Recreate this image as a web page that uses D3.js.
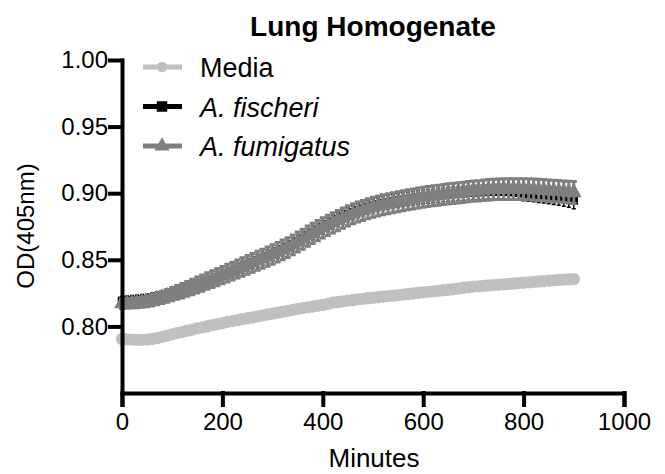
<!DOCTYPE html>
<html>
<head>
<meta charset="utf-8">
<script src="https://cdn.jsdelivr.net/npm/d3@7"></script>
<style>
  body { margin: 0; background: #fff; }
  text { font-family: Arial, "Liberation Sans", sans-serif; }
</style>
</head>
<body>
<script>
// time points (minutes)
var minutes = [0,10,20,30,40,50,60,70,80,90,100,110,120,130,140,150,160,170,180,190,
  200,210,220,230,240,250,260,270,280,290,300,310,320,330,340,350,360,370,380,390,
  400,410,420,430,440,450,460,470,480,490,500,510,520,530,540,550,560,570,580,590,
  600,610,620,630,640,650,660,670,680,690,700,710,720,730,740,750,760,770,780,790,
  800,810,820,830,840,850,860,870,880,890,900];

var media = [.7905,.7903,.7901,.7899,.7899,.7901,.7905,.7912,.7921,.7931,
  .7940,.7949,.7958,.7967,.7976,.7985,.7993,.8001,.8009,.8017,
  .8025,.8033,.8040,.8047,.8054,.8061,.8068,.8075,.8082,.8089,
  .8096,.8103,.8110,.8117,.8124,.8131,.8137,.8143,.8149,.8155,
  .8161,.8168,.8178,.8183,.8188,.8193,.8198,.8203,.8207,.8211,
  .8215,.8219,.8223,.8227,.8231,.8235,.8239,.8243,.8247,.8251,
  .8255,.8259,.8263,.8267,.8271,.8275,.8279,.8284,.8290,.8294,
  .8298,.8301,.8304,.8307,.8310,.8313,.8316,.8319,.8322,.8325,
  .8328,.8331,.8334,.8337,.8340,.8343,.8346,.8349,.8351,.8353,.8355];

var fischeri = [.8192,.8194,.8196,.8199,.8202,.8206,.8212,.8220,.8228,.8236,
  .8245,.8255,.8268,.8281,.8295,.8309,.8324,.8339,.8354,.8369,
  .8384,.8399,.8414,.8430,.8446,.8462,.8478,.8494,.8510,.8526,
  .8543,.8560,.8578,.8597,.8617,.8638,.8660,.8682,.8704,.8725,
  .8746,.8766,.8786,.8805,.8823,.8842,.8857,.8871,.8884,.8896,
  .8907,.8916,.8925,.8932,.8939,.8945,.8951,.8957,.8962,.8967,
  .8971,.8975,.8979,.8983,.8987,.8991,.8994,.8997,.9000,.9003,
  .9006,.9008,.9010,.9012,.9013,.9013,.9012,.9010,.9007,.9003,
  .8999,.8995,.8991,.8987,.8983,.8978,.8973,.8968,.8962,.8955,.8945];

var fischeriSem = [.0035,.0035,.0036,.0036,.0037,.0037,.0038,.0038,.0039,.0039,
  .0040,.0040,.0040,.0041,.0041,.0041,.0042,.0042,.0042,.0043,
  .0043,.0043,.0044,.0044,.0044,.0045,.0045,.0045,.0045,.0046,
  .0046,.0046,.0046,.0047,.0047,.0047,.0047,.0047,.0048,.0048,
  .0048,.0048,.0048,.0048,.0049,.0049,.0049,.0049,.0049,.0049,
  .0050,.0050,.0050,.0050,.0050,.0050,.0050,.0051,.0051,.0051,
  .0051,.0051,.0051,.0052,.0052,.0052,.0052,.0052,.0052,.0053,
  .0053,.0053,.0053,.0053,.0054,.0054,.0054,.0054,.0055,.0055,
  .0055,.0056,.0056,.0057,.0057,.0058,.0058,.0059,.0060,.0061,.0062];

var fumigatus = [.8170,.8172,.8175,.8178,.8182,.8188,.8196,.8206,.8217,.8229,
  .8242,.8255,.8268,.8282,.8296,.8310,.8325,.8340,.8355,.8370,
  .8385,.8400,.8415,.8431,.8446,.8462,.8477,.8493,.8508,.8524,
  .8540,.8557,.8574,.8592,.8612,.8633,.8655,.8677,.8698,.8719,
  .8740,.8759,.8777,.8795,.8813,.8830,.8845,.8858,.8870,.8883,
  .8895,.8904,.8913,.8921,.8928,.8935,.8943,.8950,.8957,.8964,
  .8970,.8975,.8980,.8985,.8990,.8995,.8999,.9003,.9007,.9011,
  .9015,.9018,.9022,.9025,.9028,.9030,.9031,.9031,.9031,.9031,
  .9030,.9029,.9027,.9025,.9023,.9020,.9017,.9014,.9011,.9008,.9005];

var fumigatusSem = [.0035,.0036,.0037,.0038,.0039,.0040,.0042,.0044,.0046,.0048,
  .0050,.0052,.0054,.0056,.0058,.0060,.0061,.0062,.0063,.0064,
  .0065,.0066,.0067,.0068,.0069,.0070,.0071,.0071,.0072,.0072,
  .0073,.0073,.0074,.0074,.0075,.0075,.0075,.0076,.0076,.0076,
  .0076,.0076,.0076,.0076,.0076,.0076,.0075,.0075,.0075,.0075,
  .0075,.0075,.0075,.0075,.0075,.0075,.0075,.0075,.0075,.0075,
  .0075,.0075,.0075,.0075,.0075,.0076,.0076,.0076,.0076,.0076,
  .0076,.0076,.0077,.0077,.0077,.0077,.0078,.0078,.0078,.0078,
  .0079,.0079,.0079,.0080,.0080,.0080,.0081,.0081,.0081,.0082,.0082];

var xTicks = [0, 200, 400, 600, 800, 1000];
var yTicks = [0.80, 0.85, 0.90, 0.95, 1.00];

var width = 665, height = 474;

var svg = d3.select('body').append('svg')
  .attr('width', width)
  .attr('height', height);

var x = d3.scaleLinear().domain([0, 1000]).range([122, 624]);
var y = d3.scaleLinear().domain([0.75, 1.00]).range([393, 60]);

// title
svg.append('text')
  .attr('x', 373).attr('y', 36)
  .attr('text-anchor', 'middle')
  .style('font-size', '28px')
  .style('font-weight', 'bold')
  .text('Lung Homogenate');

// axis labels
svg.append('text')
  .attr('transform', 'translate(34,' + 226 + ') rotate(-90)')
  .attr('text-anchor', 'middle')
  .style('font-size', '24px')
  .text('OD(405nm)');

svg.append('text')
  .attr('x', 374).attr('y', 467)
  .attr('text-anchor', 'middle')
  .style('font-size', '26px')
  .text('Minutes');

function series(vals, sem, color, symType, symSize, capW, barW) {
  var g = svg.append('g');
  var pts = minutes.map(function(t, i) { return { t: t, v: vals[i], e: sem ? sem[i] : 0 }; });

  g.append('path')
    .datum(pts)
    .attr('d', d3.line().x(function(d) { return x(d.t); }).y(function(d) { return y(d.v); }))
    .style('fill', 'none')
    .style('stroke', color)
    .style('stroke-width', 2);

  if (sem) {
    g.selectAll('.eb').data(pts).enter().append('path')
      .attr('d', function(d) {
        var cx = x(d.t), y1 = y(d.v + d.e), y2 = y(d.v - d.e);
        return 'M' + cx + ',' + y1 + 'V' + y2 +
          'M' + (cx - capW / 2) + ',' + y1 + 'H' + (cx + capW / 2) +
          'M' + (cx - capW / 2) + ',' + y2 + 'H' + (cx + capW / 2);
      })
      .style('fill', 'none')
      .style('stroke', color)
      .style('stroke-width', barW);
  }

  g.selectAll('.pt').data(pts).enter().append('path')
    .attr('transform', function(d) { return 'translate(' + x(d.t) + ',' + y(d.v) + ')'; })
    .attr('d', d3.symbol().type(symType).size(symSize))
    .style('fill', color);
}

series(media, null, '#c0c0c0', d3.symbolCircle, 120, 0, 0);
series(fischeri, fischeriSem, '#000000', d3.symbolSquare, 72, 4, 1.5);
series(fumigatus, fumigatusSem, '#7f7f7f', d3.symbolTriangle, 110, 6, 3);

// axes
var xAxis = svg.append('g')
  .attr('transform', 'translate(0,393)')
  .call(d3.axisBottom(x).tickValues(xTicks).tickSize(12).tickSizeOuter(12).tickPadding(8).tickFormat(d3.format('d')));
var yAxis = svg.append('g')
  .attr('transform', 'translate(122,0)')
  .call(d3.axisLeft(y).tickValues(yTicks).tickSize(12).tickSizeOuter(0).tickPadding(2).tickFormat(d3.format('.2f')));

[xAxis, yAxis].forEach(function(a) {
  a.selectAll('path, line').style('stroke', '#000').style('stroke-width', 4).style('stroke-linecap', 'square');
  a.selectAll('text').style('font-size', '24px').style('fill', '#000')
    .style('font-family', 'Arial, "Liberation Sans", sans-serif');
});

// legend
var legendNames = ['Media', 'A. fischeri', 'A. fumigatus'];
var legendColors = ['#c0c0c0', '#000000', '#7f7f7f'];
var legendSymbols = [d3.symbolCircle, d3.symbolSquare, d3.symbolTriangle];
var legendSizes = [90, 110, 100];

var lg = svg.append('g');
legendNames.forEach(function(name, i) {
  var ly = 67 + i * 39.5;
  lg.append('line')
    .attr('x1', 143).attr('x2', 182).attr('y1', ly).attr('y2', ly)
    .style('stroke', legendColors[i]).style('stroke-width', 5);
  lg.append('path')
    .attr('transform', 'translate(162,' + ly + ')')
    .attr('d', d3.symbol().type(legendSymbols[i]).size(legendSizes[i]))
    .style('fill', legendColors[i]);
  lg.append('text')
    .attr('x', 200).attr('y', ly + 10)
    .style('font-size', '27px')
    .style('font-style', i > 0 ? 'italic' : 'normal')
    .text(name);
});
</script>
</body>
</html>
